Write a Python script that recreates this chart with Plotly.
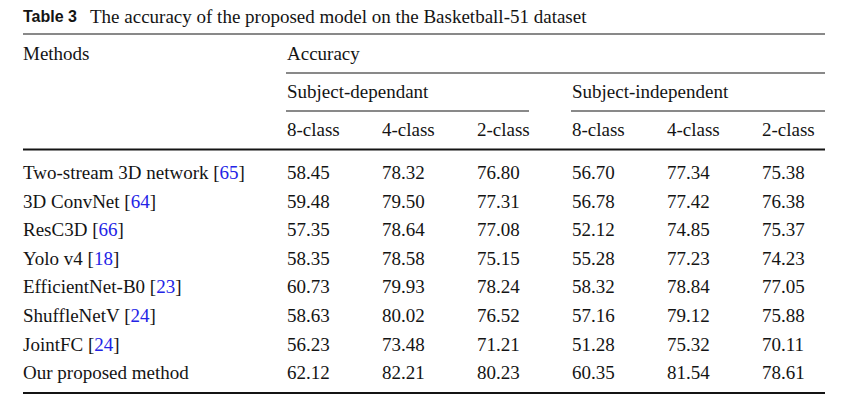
import plotly.graph_objects as go

# table content
title_bold = "Table 3"
title_text = "The accuracy of the proposed model on the Basketball-51 dataset"
group_label = "Accuracy"
subgroups = ["Subject-dependant", "Subject-independent"]
class_labels = ["8-class", "4-class", "2-class", "8-class", "4-class", "2-class"]

methods = ["Two-stream 3D network", "3D ConvNet", "ResC3D", "Yolo v4",
           "EfficientNet-B0", "ShuffleNetV", "JointFC", "Our proposed method"]
refs = ["65", "64", "66", "18", "23", "24", "24", None]

dep_8 = [58.45, 59.48, 57.35, 58.35, 60.73, 58.63, 56.23, 62.12]
dep_4 = [78.32, 79.50, 78.64, 78.58, 79.93, 80.02, 73.48, 82.21]
dep_2 = [76.80, 77.31, 77.08, 75.15, 78.24, 76.52, 71.21, 80.23]
ind_8 = [56.70, 56.78, 52.12, 55.28, 58.32, 57.16, 51.28, 60.35]
ind_4 = [77.34, 77.42, 74.85, 77.23, 78.84, 79.12, 75.32, 81.54]
ind_2 = [75.38, 76.38, 75.37, 74.23, 77.05, 75.88, 70.11, 78.61]

columns = [dep_8, dep_4, dep_2, ind_8, ind_4, ind_2]

# layout in page pixels
W, H = 865, 413
left = 23
right = 825
col_x = [286, 381, 476, 571, 666, 761]
row_y0 = 172.5
row_h = 28.6
serif = "Liberation Serif, Times New Roman, serif"
ink = "#141414"
link = "#2323e6"
fs = 19

fig = go.Figure()
fig.add_trace(go.Scatter(x=[0, W], y=[0, H], mode="markers",
                         marker=dict(opacity=0), hoverinfo="skip", showlegend=False))

ann = []


def text(x, y, s, size=fs, family=serif):
    ann.append(dict(x=x, y=y, xref="x", yref="y", text=s, showarrow=False,
                    xanchor="left", yanchor="middle", borderpad=0,
                    font=dict(family=family, size=size, color=ink)))


text(left - 1, 16, "<b>%s</b>" % title_bold, size=16,
     family="Liberation Sans, Arial, sans-serif")
text(89, 16, title_text)

text(left - 1, 53, "Methods")
text(col_x[0], 53, group_label)
text(col_x[0], 91, subgroups[0])
text(col_x[3], 91, subgroups[1])
for cx, lab in zip(col_x, class_labels):
    text(cx, 129, lab)

for i, (m, r) in enumerate(zip(methods, refs)):
    y = row_y0 + i * row_h
    label = m if r is None else "%s [<span style='color:%s'>%s</span>]" % (m, link, r)
    text(left - 1, y, label)
    for cx, col in zip(col_x, columns):
        text(cx, y, "%.2f" % col[i])

rules = [
    (left, right, 34, 1.2),
    (col_x[0], right, 73, 1.2),
    (col_x[0], 529, 111, 1.2),
    (col_x[3], right, 111, 1.2),
    (left, right, 149.5, 2.2),
    (left, right, 393, 2.2),
]
shapes = [dict(type="line", xref="x", yref="y", x0=a, x1=b, y0=y, y1=y,
               line=dict(color=ink, width=w)) for a, b, y, w in rules]

fig.update_layout(
    width=W, height=H,
    margin=dict(l=0, r=0, t=0, b=0),
    paper_bgcolor="white", plot_bgcolor="white",
    xaxis=dict(range=[0, W], visible=False, fixedrange=True),
    yaxis=dict(range=[H, 0], visible=False, fixedrange=True),
    annotations=ann,
    shapes=shapes,
)

# drop the default body margin so the figure sits at the page corner
fig.write_html("out.html", config={"displayModeBar": False},
               post_script="document.body.style.margin='0px';")
